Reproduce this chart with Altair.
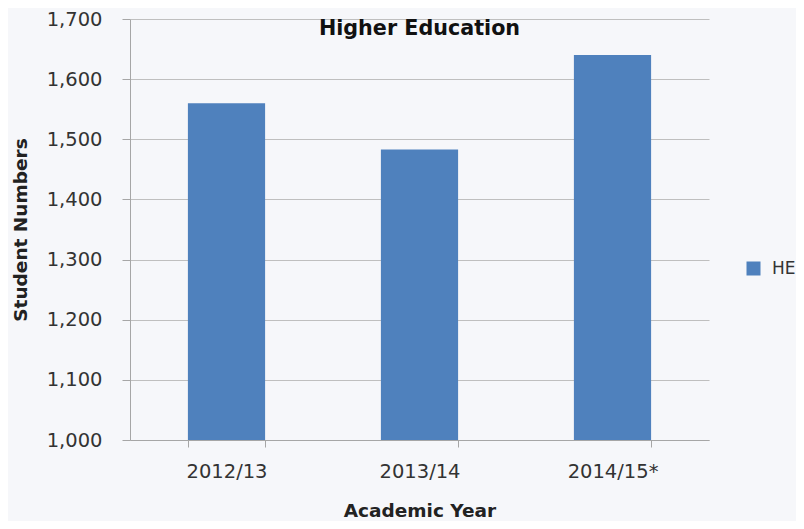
import altair as alt
import pandas as pd

years = ["2012/13", "2013/14", "2014/15*"]
students = [1560, 1483, 1640]
series = ["HE", "HE", "HE"]

df = pd.DataFrame({"year": years, "students": students, "series": series})

FONT = "DejaVu Sans"

bars = alt.Chart(df).mark_bar(color="#4f81bd", clip=True).encode(
    x=alt.X("year:N", sort=years, title="Academic Year",
            scale=alt.Scale(paddingInner=0.6, paddingOuter=0.3),
            axis=alt.Axis(labelAngle=0, labelFontSize=19.5, labelColor="#333333",
                          titleFontSize=18.5, titleFontWeight="bold", titleColor="#222222",
                          titlePadding=21, labelPadding=15, tickBand="extent",
                          domainColor="#a6a6a6", tickColor="#a6a6a6", tickSize=7,
                          grid=False)),
    y=alt.Y("students:Q", title="Student Numbers",
            scale=alt.Scale(domain=[1000, 1700], nice=False, zero=False),
            axis=alt.Axis(values=list(range(1000, 1701, 100)), format=",.0f",
                          labelFontSize=19.5, labelColor="#333333",
                          titleFontSize=18.5, titleFontWeight="bold", titleColor="#222222",
                          titlePadding=16, labelPadding=20,
                          domainColor="#a6a6a6", tickColor="#a6a6a6", tickSize=8,
                          gridColor="#bfbfbf", gridWidth=1)),
    fill=alt.Fill("series:N", scale=alt.Scale(range=["#4f81bd"]),
                  legend=alt.Legend(title=None, orient="none", legendX=615, legendY=241,
                                    symbolType="square", symbolSize=196,
                                    symbolStrokeWidth=0, labelFontSize=17,
                                    labelColor="#333333", labelOffset=10)),
)

chart = bars.properties(
    width=579, height=421,
    title=alt.TitleParams("Higher Education", fontSize=20.7, fontWeight="bold",
                          color="#111111", anchor="middle", orient="top",
                          offset=-31),
    autosize=alt.AutoSizeParams(type="none"),
    padding={"left": 122, "top": 11, "right": 87, "bottom": 81},
    background="#f6f7fa",
).configure(font=FONT).configure_view(stroke=None)

chart.save("out.html", embed_options={"renderer": "svg", "actions": False})
